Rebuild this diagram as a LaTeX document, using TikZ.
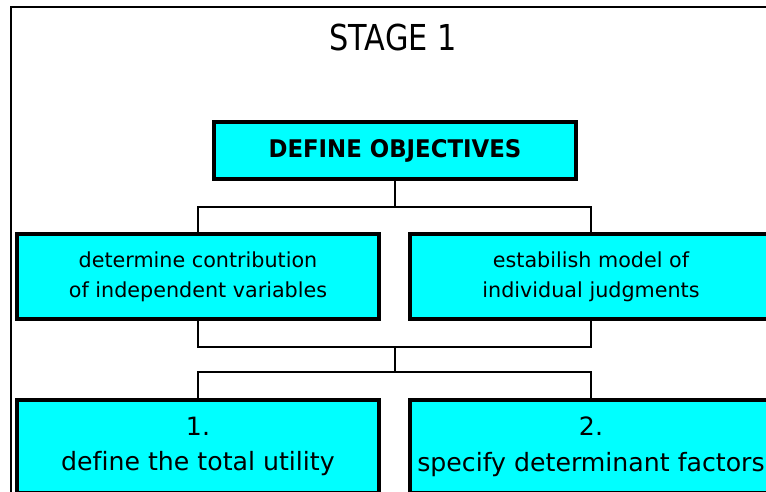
\documentclass[tikz,border=0pt]{standalone}
\usepackage{fontspec}
\setmainfont{DejaVu Sans}[Ligatures=NoCommon]
\newfontfamily\titlefont{DejaVu Sans}[FakeStretch=0.85]
\newfontfamily\headfont{DejaVu Sans}[FakeStretch=0.94]
\usepackage{tikz}
\usetikzlibrary{matrix}
\definecolor{aqua}{RGB}{0,255,255}

\begin{document}
\begin{tikzpicture}[
    		x=1pt, y=-1pt,
    		every matrix/.style={column sep=27pt, row sep=77pt},
    		every node/.style={anchor=center, inner sep=0pt},
    		choice/.style={draw, line width=4pt, fill=aqua, minimum width=362pt},
    		headbox/.style={choice, minimum height=57pt, font=\headfont\bfseries\fontsize{24.3pt}{28pt}\selectfont},
    		midbox/.style={choice, minimum height=85pt, font=\fontsize{20.7pt}{25pt}\selectfont},
    		endbox/.style={choice, minimum height=93pt, font=\fontsize{25.2pt}{30pt}\selectfont},
    		wire/.style={line width=1.6pt}
    		]
    		
    		\useasboundingbox (0,0) rectangle (766,492);
    		\clip (0,0) rectangle (766,492);
    		\fill[white] (0,0) rectangle (766,492);
    		\draw[line width=2pt] (11,7) rectangle (800,530);
    		
    		\node[font=\titlefont\fontsize{35.7pt}{40pt}\selectfont] (title) at (393,38) {STAGE 1};
    		\node[headbox] (obj) at (395,150.5) {DEFINE OBJECTIVES};
    		
    		\matrix (grid) [matrix of nodes, anchor=north, nodes={anchor=center}] at (394.5,232)
    		{
    			|[midbox] (contrib)| \shortstack{determine contribution\\[11pt]of independent variables} &
    			|[midbox] (model)| \shortstack{estabilish model of\\[11pt]individual judgments} \\
    			|[endbox] (utility)| \shortstack{1.\\[13pt]define the total utility} &
    			|[endbox] (factors)| \shortstack{2.\\[13pt]specify determinant factors} \\
    		};
    		
    		\coordinate (split) at (395,207);
    		\coordinate (join) at (395,347);
    		\coordinate (fork) at (395,372);
    		
    		\draw[wire] (obj.south) -- (split);
    		\draw[wire] (contrib.north) |- (split) -| (model.north);
    		\draw[wire] (contrib.south) |- (join) -| (model.south);
    		\draw[wire] (join) -- (fork);
    		\draw[wire] (utility.north) |- (fork) -| (factors.north);
    		
\end{tikzpicture}
\end{document}
